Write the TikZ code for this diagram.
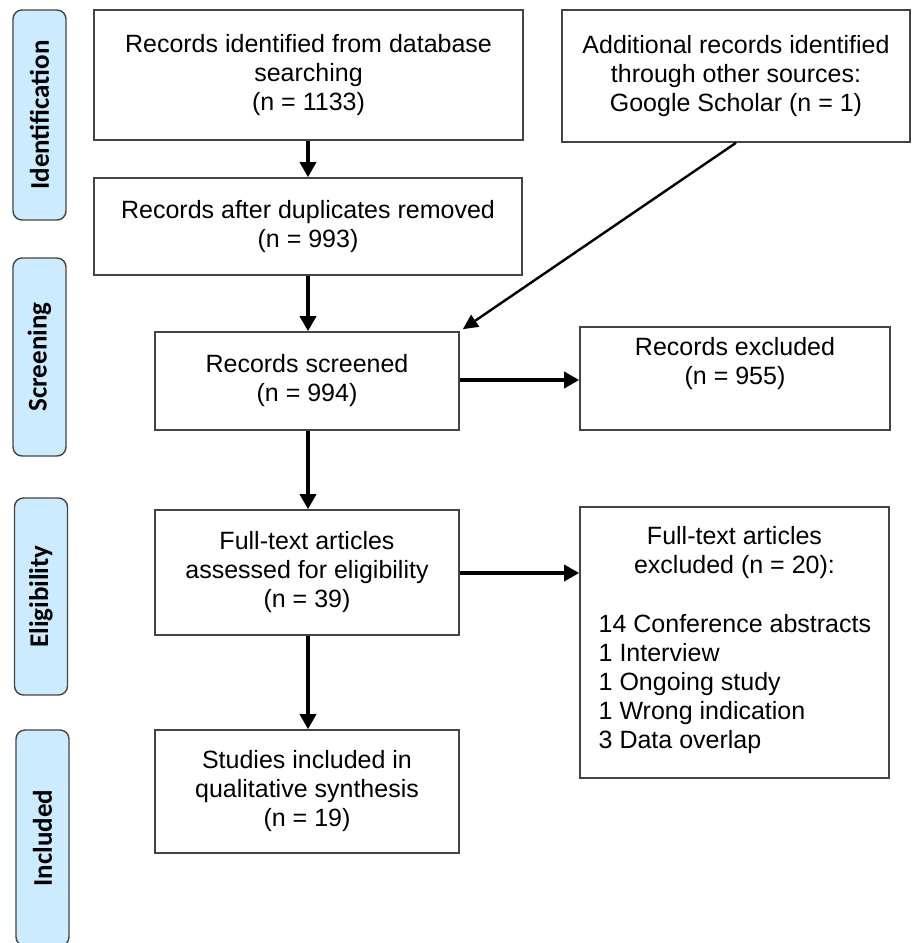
\documentclass[tikz,border=0pt]{standalone}
\usepackage{fontspec}
\setmainfont{Liberation Sans}
\newfontfamily\labfont{Carlito}[BoldFont={Carlito Bold}]
\usetikzlibrary{arrows.meta}
\definecolor{phase}{HTML}{CCEBFF}
\definecolor{edge}{HTML}{444444}
\tikzset{
  box/.style={draw=edge, line width=1.6pt, fill=white, inner sep=0pt, align=center,
              font=\fontsize{25}{29}\selectfont},
  phasebox/.style={draw=edge, line width=1.4pt, fill=phase, rounded corners=9pt, inner sep=0pt,
              minimum width=53pt},
  phasetext/.style={rotate=90, font=\labfont\bfseries\fontsize{27}{30}\selectfont},
  txt/.style={inner sep=0pt, font=\fontsize{25}{29}\selectfont},
  arr/.style={line width=3.4pt, -{Triangle[length=15pt,width=16pt]}},
  thinarr/.style={line width=2.4pt, -{Triangle[length=15pt,width=14pt]}}
}
\begin{document}
\begin{tikzpicture}[x=1pt,y=-1pt]
\useasboundingbox (0,0) rectangle (921,943);
% phase labels
\node[phasebox, minimum height=210pt] (pid) at (39.5,115) {};
\node[phasetext] (tid) at (pid.center) {Identification};
\node[phasebox, minimum height=198pt] (psc) at (39.5,357) {};
\node[phasetext] (tsc) at (psc.center) {Screening};
\node[phasebox, minimum height=197pt] (pel) at (41,596.5) {};
\node[phasetext] (tel) at (pel.center) {Eligibility};
\node[phasebox, minimum height=216pt] (pin) at (42.5,838) {};
\node[phasetext] (tin) at (pin.center) {Included};
% boxes
\node[box, minimum width=429pt, minimum height=130pt] (ident) at (308.5,75)
  {Records identified from database\\searching\\(n = 1133)};
\node[box, minimum width=348pt, minimum height=132pt] (add) at (736,76)
  {Additional records identified\\through other sources:\\Google Scholar (n = 1)};
\node[box, minimum width=428pt, minimum height=97pt] (dup) at (308,226.5)
  {Records after duplicates removed\\(n = 993)};
\node[box, minimum width=304pt, minimum height=98pt] (scr) at (307,381)
  {Records screened\\(n = 994)};
\node[box, minimum width=310pt, minimum height=103pt] (exc) at (735,378.5)
  {Records excluded\\(n = 955)\\[6pt]};
\node[box, minimum width=304pt, minimum height=125pt] (ft) at (307,572.5)
  {Full-text articles\\assessed for eligibility\\(n = 39)};
\node[box, minimum width=309pt, minimum height=271pt] (fte) at (734.5,642.5) {};
\node[txt, align=center, anchor=north] (ftehead) at (734.5,526)
  {Full-text articles\\excluded (n = 20):};
\node[txt, align=left, anchor=north west] (ftelist) at (598.5,614)
  {14 Conference abstracts\\1 Interview\\1 Ongoing study\\1 Wrong indication\\3 Data overlap};
\node[box, minimum width=304pt, minimum height=123pt] (inc) at (307,791.5)
  {Studies included in\\qualitative synthesis\\(n = 19)};
% connectors
\draw[arr] (ident.south -| 308,0) -- (dup.north -| 308,0);
\draw[arr] (dup.south -| 308,0) -- (scr.north -| 308,0);
\draw[thinarr] (add.south) -- ([xshift=3pt,yshift=2pt]scr.north east);
\draw[arr] (scr.east |- 0,380) -- (exc.west |- 0,380);
\draw[arr] (scr.south -| 308,0) -- (ft.north -| 308,0);
\draw[arr] (ft.east |- 0,573) -- (fte.west |- 0,573);
\draw[arr] (ft.south -| 308,0) -- (inc.north -| 308,0);
\end{tikzpicture}
\end{document}
